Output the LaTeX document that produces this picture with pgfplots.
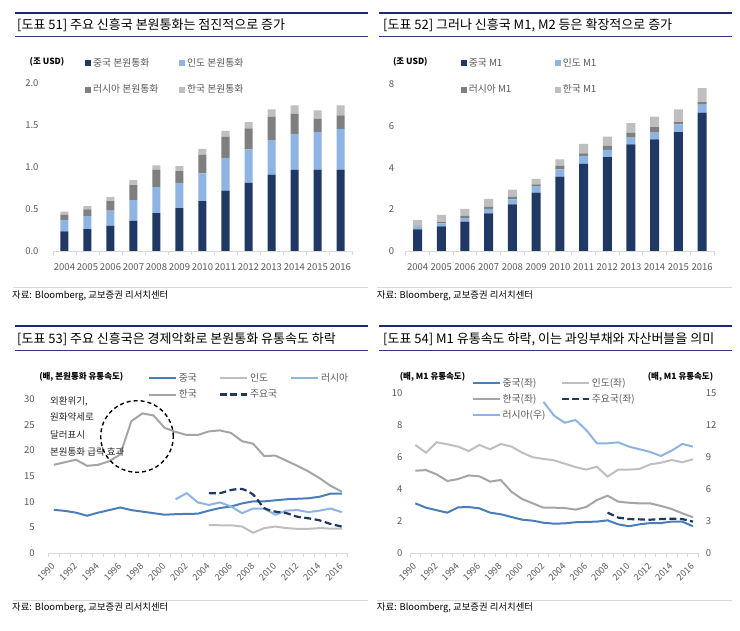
\documentclass[border=0pt]{standalone}
\usepackage{pgfplots}
\usepackage{pgfplotstable}
\pgfplotsset{compat=1.18}
\usepackage{fontspec}
\setmainfont{Noto Sans CJK KR}
\definecolor{cnNavy}{HTML}{1F3864}
\definecolor{inBlue}{HTML}{8DB4E2}
\definecolor{ruGrey}{HTML}{7F7F7F}
\definecolor{krGrey}{HTML}{BFBFBF}
\definecolor{lnBlue}{HTML}{4A7EBB}
\definecolor{lnKr}{HTML}{A5A5A5}
\definecolor{tickGrey}{HTML}{595959}
\definecolor{axGrey}{HTML}{D9D9D9}
\definecolor{ruleNavy}{HTML}{1C2A74}
\definecolor{ruleBlue}{HTML}{2B3A8F}
\newcommand{\titlefont}{\fontsize{13}{15}\selectfont}
\newcommand{\unitfont}{\fontsize{8.5}{10}\selectfont\bfseries}
\newcommand{\srcfont}{\fontsize{9.4}{11}\selectfont}
\newcommand{\tickfont}{\fontsize{9.5}{11}\selectfont}
\newcommand{\legfont}{\fontsize{9.8}{11}\selectfont}

\pgfplotstableread{
yr cn in ru kr
2004 0.235 0.135 0.06 0.04
2005 0.26 0.155 0.08 0.04
2006 0.30 0.18 0.115 0.045
2007 0.36 0.245 0.18 0.06
2008 0.45 0.31 0.205 0.055
2009 0.51 0.30 0.14 0.06
2010 0.595 0.33 0.22 0.07
2011 0.72 0.39 0.25 0.07
2012 0.81 0.40 0.25 0.075
2013 0.91 0.41 0.28 0.085
2014 0.965 0.43 0.24 0.10
2015 0.97 0.445 0.16 0.10
2016 0.97 0.485 0.16 0.12
}\dA
\pgfplotstableread{
yr cn in ru kr
2004 1.04 0.14 0.03 0.27
2005 1.18 0.15 0.06 0.34
2006 1.41 0.17 0.10 0.34
2007 1.81 0.21 0.11 0.37
2008 2.24 0.24 0.13 0.33
2009 2.80 0.29 0.11 0.26
2010 3.57 0.35 0.16 0.32
2011 4.18 0.38 0.13 0.45
2012 4.50 0.35 0.21 0.43
2013 5.12 0.32 0.24 0.46
2014 5.36 0.35 0.24 0.50
2015 5.71 0.37 0.11 0.61
2016 6.64 0.38 0.12 0.67
}\dB

\pgfplotsset{
 common/.style={
  scale only axis, anchor=south west,
  axis x line*=bottom, axis y line*=left,
  x axis line style={draw=axGrey, line width=0.9pt, -},
  y axis line style={draw=none},
  tick align=outside, major tick length=0pt,
  ytick style={draw=none},
  xtick style={draw=axGrey, line width=0.7pt},
  extra x tick style={major tick length=4pt},
  extra x tick labels={},
  tick label style={font=\tickfont, text=tickGrey},
  /pgf/number format/assume math mode=true,
  /pgf/number format/1000 sep={},
  ymin=0,
  legend cell align=left,
  legend style={draw=none, fill=none, inner sep=0pt, outer sep=0pt,
    font=\legfont, text=tickGrey,
    nodes={inner sep=1pt},
    /tikz/every even column/.append style={column sep=0pt}},
 },
 barax/.style={common, ybar stacked, bar width=8pt,
  xmin=2003.5, xmax=2016.5, xtick={2004,...,2016},
  extra x ticks={2003.5,2004.5,...,2016.5},
  xticklabel style={yshift=-9pt},
  legend columns=2},
 lineax/.style={common,
  xmin=1989.5, xmax=2016.5, xtick={1990,1992,...,2016},
  extra x ticks={1989.5,1990.5,...,2016.5},
  xticklabel style={xshift=-3pt, yshift=-9pt, rotate=45, anchor=north east, font=\fontsize{9}{10}\selectfont, inner sep=0pt},
  legend columns=2,
  legend image code/.code={\draw[##1] (0pt,0pt) -- (27pt,0pt);}},
 sq/.style={draw=none, legend image code/.code={\fill[##1] (0pt,-3pt) rectangle (6pt,3pt);}},
 ln/.style={line width=2pt, no markers},
 dsh/.style={line width=2.2pt, no markers, dash pattern=on 7pt off 3.5pt},
}

\begin{document}
\begin{tikzpicture}[x=1pt,y=1pt]
\path[use as bounding box] (0,0) rectangle (740,631);
\fill[white] (0,0) rectangle (740,631);

% ---------- Panel 51 ----------
\draw[ruleNavy, line width=2.6pt] (15,618) -- (368,618);
\node[anchor=west, font=\titlefont, inner sep=0pt] at (17,605.5) {[도표 51] 주요 신흥국 본원통화는 점진적으로 증가};
\draw[ruleBlue, line width=0.9pt] (15,595) -- (368,595);
\node[font=\unitfont] at (47,569.3) {(조 USD)};
\draw[axGrey, line width=1pt] (13,343) -- (368,343);
\node[anchor=west, font=\srcfont, inner sep=0pt] at (12,335.3) {자료: Bloomberg, 교보증권 리서치센터};

\begin{axis}[barax, at={(53pt,380pt)}, width=299pt, height=168pt,
  ymax=2, ytick={0,0.5,1,1.5,2},
  yticklabel style={xshift=-11pt, /pgf/number format/fixed, /pgf/number format/fixed zerofill, /pgf/number format/precision=1},
  legend style={at={(0.107,1.151)}, anchor=north west, row sep=14.5pt}]
\addplot[sq, fill=cnNavy] table[x=yr, y=cn] {\dA};
\addlegendentry{\makebox[86pt][l]{\hspace{1.2pt}중국 본원통화}}
\addplot[sq, fill=inBlue] table[x=yr, y=in] {\dA};
\addlegendentry{\makebox[86pt][l]{\hspace{1.2pt}인도 본원통화}}
\addplot[sq, fill=ruGrey] table[x=yr, y=ru] {\dA};
\addlegendentry{\makebox[86pt][l]{\hspace{1.2pt}러시아 본원통화}}
\addplot[sq, fill=krGrey] table[x=yr, y=kr] {\dA};
\addlegendentry{\makebox[86pt][l]{\hspace{1.2pt}한국 본원통화}}
\end{axis}

% ---------- Panel 52 ----------
\draw[ruleNavy, line width=2.6pt] (379,618) -- (732,618);
\node[anchor=west, font=\titlefont, inner sep=0pt] at (383,605.5) {[도표 52] 그러나 신흥국 M1, M2 등은 확장적으로 증가};
\draw[ruleBlue, line width=0.9pt] (379,595) -- (732,595);
\node[font=\unitfont] at (410.3,569.3) {(조 USD)};
\draw[axGrey, line width=1pt] (377,343) -- (732,343);
\node[anchor=west, font=\srcfont, inner sep=0pt] at (376.7,335.3) {자료: Bloomberg, 교보증권 리서치센터};

\begin{axis}[barax, bar width=9pt, at={(405.7pt,380pt)}, width=308.3pt, height=166.7pt,
  ymax=8, ytick={0,2,4,6,8},
  yticklabel style={xshift=-8pt},
  legend style={at={(0.178,1.16)}, anchor=north west, row sep=14.5pt}]
\addplot[sq, fill=cnNavy] table[x=yr, y=cn] {\dB};
\addlegendentry{\makebox[86pt][l]{\hspace{1.2pt}중국 M1}}
\addplot[sq, fill=inBlue] table[x=yr, y=in] {\dB};
\addlegendentry{\makebox[86pt][l]{\hspace{1.2pt}인도 M1}}
\addplot[sq, fill=ruGrey] table[x=yr, y=ru] {\dB};
\addlegendentry{\makebox[86pt][l]{\hspace{1.2pt}러시아 M1}}
\addplot[sq, fill=krGrey] table[x=yr, y=kr] {\dB};
\addlegendentry{\makebox[86pt][l]{\hspace{1.2pt}한국 M1}}
\end{axis}

% ---------- Panel 53 ----------
\draw[ruleNavy, line width=2.6pt] (15,305) -- (368,305);
\node[anchor=west, font=\titlefont, inner sep=0pt] at (17,292) {[도표 53] 주요 신흥국은 경제악화로 본원통화 유통속도 하락};
\draw[ruleBlue, line width=0.9pt] (15,281) -- (368,281);
\node[font=\unitfont] at (81.3,254.3) {(배, 본원통화 유통속도)};
\draw[axGrey, line width=1pt] (13,30) -- (368,30);
\node[anchor=west, font=\srcfont, inner sep=0pt] at (12,23.3) {자료: Bloomberg, 교보증권 리서치센터};

\begin{axis}[lineax, at={(48.3pt,77.7pt)}, width=299pt, height=154.3pt,
  ymax=30, ytick={0,5,...,30},
  yticklabel style={xshift=-10pt},
  legend columns=3,
  legend style={at={(0.333,1.174)}, anchor=north west, row sep=5pt}]
\addplot[ln, lnBlue] coordinates {(1990,8.44) (1991,8.25) (1992,7.9) (1993,7.3) (1994,7.9) (1995,8.4) (1996,8.9) (1997,8.4) (1998,8.1) (1999,7.8) (2000,7.5) (2001,7.6) (2002,7.66) (2003,7.7) (2004,8.3) (2005,8.8) (2006,9.1) (2007,9.7) (2008,10.1) (2009,10.1) (2010,10.3) (2011,10.5) (2012,10.6) (2013,10.7) (2014,11.0) (2015,11.6) (2016,11.6)};
\addlegendentry{\makebox[40pt][l]{\hspace{1pt}중국}}
\addplot[ln, krGrey] coordinates {(2004,5.5) (2005,5.45) (2006,5.45) (2007,5.2) (2008,4.0) (2009,4.9) (2010,5.2) (2011,4.9) (2012,4.75) (2013,4.75) (2014,4.9) (2015,4.8) (2016,4.8)};
\addlegendentry{\makebox[40pt][l]{\hspace{1pt}인도}}
\addplot[ln, inBlue] coordinates {(2001,10.5) (2002,11.7) (2003,9.9) (2004,9.4) (2005,9.9) (2006,9.1) (2007,7.8) (2008,8.7) (2009,8.7) (2010,7.5) (2011,8.3) (2012,8.4) (2013,8.0) (2014,8.3) (2015,8.7) (2016,8.0)};
\addlegendentry{\makebox[40pt][l]{\hspace{1pt}러시아}}
\addplot[ln, lnKr] coordinates {(1990,17.2) (1991,17.7) (1992,18.2) (1993,17.0) (1994,17.2) (1995,17.9) (1996,19.2) (1997,25.7) (1998,27.2) (1999,26.8) (2000,24.4) (2001,23.6) (2002,23.0) (2003,23.0) (2004,23.7) (2005,23.9) (2006,23.4) (2007,21.8) (2008,21.3) (2009,18.9) (2010,19.0) (2011,18.0) (2012,17.0) (2013,15.9) (2014,14.6) (2015,13.1) (2016,12.0)};
\addlegendentry{\makebox[40pt][l]{\hspace{1pt}한국}}
\addplot[dsh, cnNavy, smooth, tension=0.4] coordinates {(2004,11.7) (2005,11.7) (2006,12.3) (2007,12.5) (2008,11.4) (2009,8.8) (2010,8.1) (2011,7.8) (2012,7.1) (2013,6.8) (2014,6.4) (2015,5.7) (2016,5.2)};
\addlegendentry{\makebox[40pt][l]{\hspace{1pt}주요국}}
\end{axis}
\draw[black, line width=1.4pt, dash pattern=on 4pt off 3pt] (137,194.5) ellipse [x radius=36.3pt, y radius=35.8pt];
\begin{scope}[every node/.style={anchor=west, inner sep=0pt, font=\tickfont, text=black!85}]
\node at (50,229.3) {외환위기,};
\node at (50,213.7) {원화약세로};
\node at (50,196) {달러표시};
\node at (50,179.3) {본원통화 급락 효과};
\end{scope}

% ---------- Panel 54 ----------
\draw[ruleNavy, line width=2.6pt] (379,305) -- (732,305);
\node[anchor=west, font=\titlefont, inner sep=0pt] at (383,292) {[도표 54] M1 유통속도 하락, 이는 과잉부채와 자산버블을 의미};
\draw[ruleBlue, line width=0.9pt] (379,280.5) -- (732,280.5);
\node[font=\unitfont] at (432.5,254) {(배, M1 유통속도)};
\node[font=\unitfont] at (680.5,254) {(배, M1 유통속도)};
\draw[axGrey, line width=1pt] (377,30) -- (732,30);
\node[anchor=west, font=\srcfont, inner sep=0pt] at (376.7,23.3) {자료: Bloomberg, 교보증권 리서치센터};

\begin{axis}[lineax, at={(410pt,77.7pt)}, width=288.3pt, height=160pt,
  ymax=10, ytick={0,2,...,10},
  yticklabel style={xshift=-4pt},
  legend style={at={(0.214,1.102)}, anchor=north west, row sep=4.5pt}]
\addplot[ln, lnBlue] coordinates {(1990,3.12) (1991,2.85) (1992,2.69) (1993,2.54) (1994,2.87) (1995,2.89) (1996,2.81) (1997,2.54) (1998,2.44) (1999,2.27) (2000,2.10) (2001,2.04) (2002,1.91) (2003,1.85) (2004,1.87) (2005,1.94) (2006,1.96) (2007,1.98) (2008,2.06) (2009,1.81) (2010,1.69) (2011,1.81) (2012,1.89) (2013,1.89) (2014,1.98) (2015,1.98) (2016,1.69)};
\addlegendentry{\makebox[58pt][l]{\hspace{1pt}중국(좌)}}
\addplot[ln, krGrey] coordinates {(1990,6.77) (1991,6.29) (1992,6.94) (1993,6.81) (1994,6.67) (1995,6.39) (1996,6.77) (1997,6.50) (1998,6.83) (1999,6.67) (2000,6.29) (2001,6.00) (2002,5.90) (2003,5.81) (2004,5.60) (2005,5.39) (2006,5.23) (2007,5.41) (2008,4.79) (2009,5.23) (2010,5.23) (2011,5.27) (2012,5.56) (2013,5.66) (2014,5.83) (2015,5.69) (2016,5.87)};
\addlegendentry{\makebox[58pt][l]{\hspace{1pt}인도(좌)}}
\addplot[ln, lnKr] coordinates {(1990,5.16) (1991,5.20) (1992,4.93) (1993,4.52) (1994,4.64) (1995,4.87) (1996,4.81) (1997,4.48) (1998,4.58) (1999,3.85) (2000,3.39) (2001,3.12) (2002,2.85) (2003,2.85) (2004,2.83) (2005,2.73) (2006,2.89) (2007,3.33) (2008,3.60) (2009,3.23) (2010,3.16) (2011,3.12) (2012,3.12) (2013,2.96) (2014,2.77) (2015,2.50) (2016,2.25)};
\addlegendentry{\makebox[58pt][l]{\hspace{1pt}한국(좌)}}
\addplot[dsh, cnNavy] coordinates {(2008,2.54) (2009,2.23) (2010,2.14) (2011,2.12) (2012,2.10) (2013,2.14) (2014,2.16) (2015,2.14) (2016,1.98)};
\addlegendentry{\makebox[58pt][l]{\hspace{1pt}주요국(좌)}}
\addlegendimage{ln, inBlue}
\addlegendentry{\makebox[58pt][l]{\hspace{1pt}러시아(우)}}
\end{axis}
\begin{axis}[common, at={(410pt,77.7pt)}, width=288.3pt, height=160pt,
  xmin=1989.5, xmax=2016.5, axis x line=none, axis y line*=right,
  ymax=15, ytick={0,3,...,15},
  yticklabel style={anchor=west, xshift=4pt}]
\addplot[ln, inBlue] coordinates {(2002,14.2) (2003,12.9) (2004,12.24) (2005,12.5) (2006,11.56) (2007,10.31) (2008,10.31) (2009,10.4) (2010,10.0) (2011,9.75) (2012,9.5) (2013,9.12) (2014,9.62) (2015,10.25) (2016,10.0)};
\end{axis}
\end{tikzpicture}
\end{document}
